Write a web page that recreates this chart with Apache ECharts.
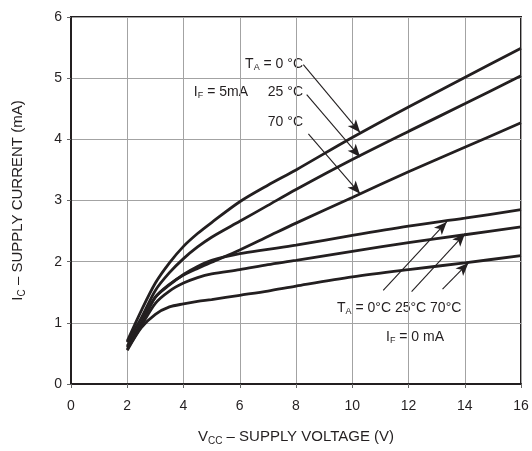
<!DOCTYPE html>
<html>
<head>
<meta charset="utf-8">
<script src="https://cdn.jsdelivr.net/npm/echarts@6/dist/echarts.min.js"></script>
<style>
  html, body { margin: 0; background: #fff; }
  #chart { width: 532px; height: 451px; }
</style>
</head>
<body>
<div id="chart"></div>
<script>
const vcc = [2, 2.5, 3, 3.5, 4, 4.5, 5, 6, 7, 8, 10, 12, 14, 16]

// IF = 5 mA
const if5T0 = [0.70, 1.20, 1.65, 1.98, 2.25, 2.46, 2.64, 2.98, 3.25, 3.50, 4.03, 4.53, 5.01, 5.49]
const if5T25 = [0.68, 1.08, 1.53, 1.82, 2.05, 2.24, 2.40, 2.66, 2.92, 3.18, 3.67, 4.13, 4.58, 5.04]
const if5T70 = [0.62, 1.00, 1.42, 1.63, 1.78, 1.89, 1.99, 2.19, 2.41, 2.63, 3.05, 3.47, 3.87, 4.27]

// IF = 0 mA
const if0T0 = [0.60, 1.00, 1.42, 1.62, 1.79, 1.92, 2.02, 2.13, 2.20, 2.27, 2.43, 2.58, 2.71, 2.85]
const if0T25 = [0.57, 0.95, 1.32, 1.52, 1.65, 1.74, 1.80, 1.87, 1.95, 2.02, 2.17, 2.31, 2.44, 2.57]
const if0T70 = [0.55, 0.92, 1.14, 1.26, 1.31, 1.35, 1.38, 1.45, 1.52, 1.60, 1.75, 1.87, 1.98, 2.10]

const xTicks = { min: 0, max: 16, step: 2 }
const yTicks = { min: 0, max: 6, step: 1 }

// callout arrows [from, to] in data units
const arrow5T0 = [[8.26, 5.22], [10.28, 4.11]]
const arrow5T25 = [[8.38, 4.73], [10.28, 3.71]]
const arrow5T70 = [[8.44, 4.09], [10.28, 3.11]]
const arrow0T0 = [[11.10, 1.53], [13.36, 2.65]]
const arrow0T25 = [[12.11, 1.51], [14.01, 2.46]]
const arrow0T70 = [[13.21, 1.55], [14.13, 1.98]]

const INK = '#231f20'
const FONT = 'Liberation Sans, Arial, sans-serif'

const rich = size => ({
  n: { fontSize: size, color: INK, fontFamily: FONT },
  s: { fontSize: Math.round(size * 0.66), color: INK, fontFamily: FONT, padding: [8, 0, 0, 0] },
})

const makeSeries = (name, values, arrow) => ({
  name,
  type: 'line',
  data: vcc.map((v, i) => [v, values[i]]),
  smooth: 0.3,
  symbol: 'none',
  lineStyle: { color: INK, width: 2.8 },
  markLine: {
    silent: true,
    symbol: ['none', 'arrow'],
    symbolSize: [8, 13],
    label: { show: false },
    lineStyle: { color: INK, width: 1.1, type: 'solid' },
    data: [[{ coord: arrow[0] }, { coord: arrow[1] }]],
  },
})

const note = (text, x, y, align) => ({
  type: 'text',
  x,
  y,
  style: { text, rich: rich(14), align, verticalAlign: 'middle', fill: INK },
})

const option = {
  animation: false,
  grid: { left: 71, right: 11, top: 17, bottom: 64, show: true, borderColor: INK, borderWidth: 2 },
  xAxis: {
    type: 'value',
    min: xTicks.min,
    max: xTicks.max,
    interval: xTicks.step,
    name: '{n|V}{s|CC}{n| – SUPPLY VOLTAGE (V)}',
    nameLocation: 'middle',
    nameGap: 44,
    nameTextStyle: { rich: rich(15) },
    axisLine: { lineStyle: { color: INK, width: 2 } },
    axisTick: { length: 4, lineStyle: { color: '#666' } },
    axisLabel: { color: INK, fontSize: 14, fontFamily: FONT, margin: 15 },
    splitLine: { lineStyle: { color: '#a3a3a3', width: 1 } },
  },
  yAxis: {
    type: 'value',
    min: yTicks.min,
    max: yTicks.max,
    interval: yTicks.step,
    name: '{n|I}{s|C}{n| – SUPPLY CURRENT (mA)}',
    nameLocation: 'middle',
    nameRotate: 90,
    nameGap: 44,
    nameTextStyle: { rich: rich(15) },
    axisLine: { lineStyle: { color: INK, width: 2 } },
    axisTick: { show: true, length: 4, lineStyle: { color: '#666' } },
    axisLabel: { color: INK, fontSize: 14, fontFamily: FONT, margin: 9 },
    splitLine: { lineStyle: { color: '#a3a3a3', width: 1 } },
  },
  graphic: [
    note('{n|T}{s|A}{n| = 0 °C}', 303, 64, 'right'),
    note('{n|I}{s|F}{n| = 5mA}', 248, 92, 'right'),
    note('{n|25 °C}', 303, 92, 'right'),
    note('{n|70 °C}', 303, 122, 'right'),
    note('{n|T}{s|A}{n| = 0°C 25°C 70°C}', 337, 308, 'left'),
    note('{n|I}{s|F}{n| = 0 mA}', 386, 337, 'left'),
  ],
  series: [
    makeSeries('IF=5mA 0°C', if5T0, arrow5T0),
    makeSeries('IF=5mA 25°C', if5T25, arrow5T25),
    makeSeries('IF=5mA 70°C', if5T70, arrow5T70),
    makeSeries('IF=0mA 0°C', if0T0, arrow0T0),
    makeSeries('IF=0mA 25°C', if0T25, arrow0T25),
    makeSeries('IF=0mA 70°C', if0T70, arrow0T70),
  ],
}

const chart = echarts.init(document.getElementById('chart'))
chart.setOption(option)
</script>
</body>
</html>
